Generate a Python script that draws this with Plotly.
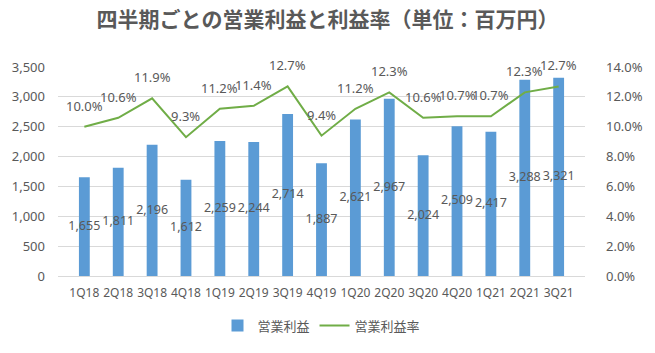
import plotly.graph_objects as go

quarters = ["1Q18","2Q18","3Q18","4Q18","1Q19","2Q19","3Q19","4Q19","1Q20","2Q20","3Q20","4Q20","1Q21","2Q21","3Q21"]
profit = [1655,1811,2196,1612,2259,2244,2714,1887,2621,2967,2024,2509,2417,3288,3321]
margin = [10.0,10.6,11.9,9.3,11.2,11.4,12.7,9.4,11.2,12.3,10.6,10.7,10.7,12.3,12.7]

FONT = "Noto Sans, Noto Sans CJK JP, sans-serif"
TXT = "#595959"

fig = go.Figure()
fig.add_trace(go.Bar(x=quarters, y=profit, name="営業利益", marker_color="#5B9BD5",
                     marker_line_width=0))
fig.add_trace(go.Scatter(x=quarters, y=[v/2 for v in profit], mode="text",
                         text=[f"{v:,}" for v in profit], textposition="middle center",
                         textfont=dict(size=12.5, color=TXT, family=FONT),
                         showlegend=False, hoverinfo="skip"))
fig.add_trace(go.Scatter(x=quarters, y=[m/100 for m in margin], name="営業利益率", yaxis="y2",
                         mode="lines", line=dict(color="#70AD47", width=2)))

for q, m in zip(quarters, margin):
    fig.add_annotation(x=q, y=m/100, xref="x", yref="y2", text=f"{m:.1f}%",
                       showarrow=False, yshift=21, yanchor="middle",
                       font=dict(size=13, color=TXT, family=FONT))

fig.update_layout(
    width=655, height=353,
    margin=dict(l=57, r=67, t=67, b=75),
    paper_bgcolor="white", plot_bgcolor="white",
    font=dict(family=FONT, color=TXT, size=12),
    title=dict(text="<b>四半期ごとの営業利益と利益率（単位：百万円）</b>", x=0.5, xanchor="center",
               y=0.945, yanchor="middle",
               font=dict(size=21, color=TXT, family="Noto Sans CJK JP, sans-serif")),
    bargap=0.68,
    xaxis=dict(showgrid=False, showline=True, linecolor="#D9D9D9", ticks="",
               ticklabelstandoff=6, tickfont=dict(size=12, color=TXT)),
    yaxis=dict(range=[0, 3500], dtick=500, tickformat=",", showgrid=True, gridcolor="#D9D9D9",
               zeroline=False, ticks="", ticklabelstandoff=12, tickfont=dict(size=13, color=TXT)),
    yaxis2=dict(range=[0, 0.14], dtick=0.02, tickformat=".1%", overlaying="y", side="right",
                showgrid=False, zeroline=False, ticklabelstandoff=20,
                tickfont=dict(size=13, color=TXT)),
    legend=dict(orientation="h", x=0.5, xanchor="center", y=-0.237, yanchor="middle",
                font=dict(size=13, color=TXT)),
    showlegend=True,
)

fig.write_html("out.html")
